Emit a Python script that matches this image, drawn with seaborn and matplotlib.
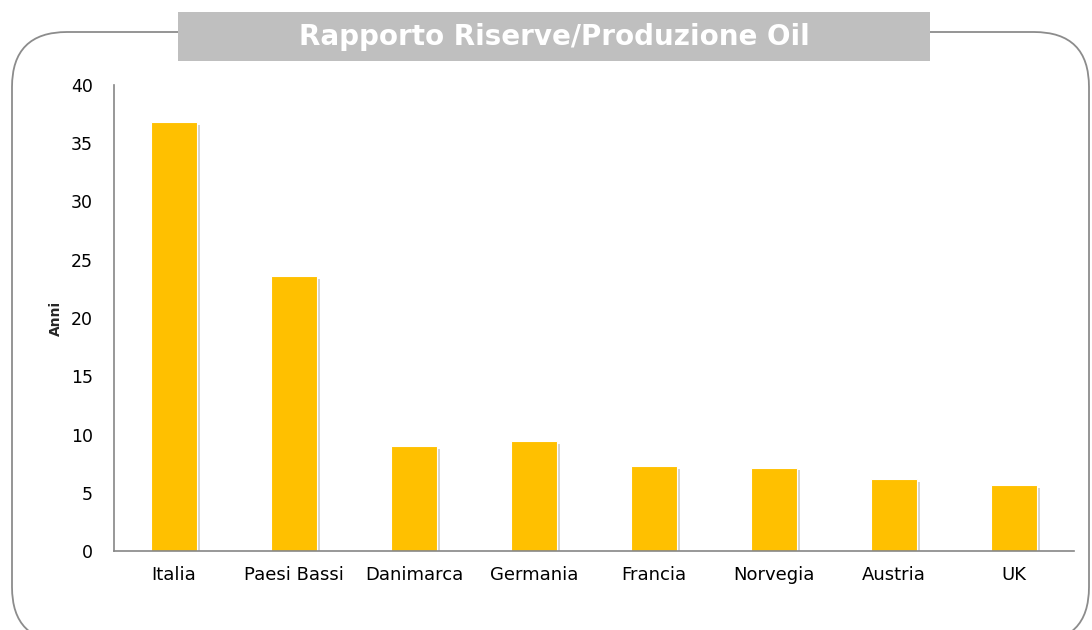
import matplotlib
matplotlib.use("Agg")
import matplotlib.pyplot as plt
import matplotlib.patheffects as pe
from matplotlib.patches import FancyBboxPatch, Rectangle
import seaborn as sns
import pandas as pd

categories = ["Italia", "Paesi Bassi", "Danimarca", "Germania", "Francia", "Norvegia", "Austria", "UK"]
values = [36.8, 23.6, 9.0, 9.4, 7.3, 7.15, 6.2, 5.65]
yticks = [0, 5, 10, 15, 20, 25, 30, 35, 40]
title = "Rapporto Riserve/Produzione Oil"
ylabel = "Anni"

sns.set_style("white")
plt.rcParams["font.family"] = ["DejaVu Sans"]

df = pd.DataFrame({"Paese": categories, "Anni": values})

fig = plt.figure(figsize=(10.92, 6.30), dpi=100)
W, H = 1092, 630

# outer rounded frame (pixel coords -> inches)
frame = FancyBboxPatch((12 / 100, -0.12), (1089 - 12) / 100, (630 - 32) / 100 + 0.12,
                       boxstyle="round,pad=0,rounding_size=0.55",
                       transform=fig.dpi_scale_trans, facecolor="none",
                       edgecolor="#8c8c8c", linewidth=1.3, zorder=0)
fig.patches.append(frame)

# title box
tb = Rectangle((178 / W, (H - 61) / H), (930 - 178) / W, (61 - 12) / H,
               transform=fig.transFigure, facecolor="#bfbfbf", edgecolor="none", zorder=2)
fig.patches.append(tb)
fig.text((178 + 930) / 2 / W, (H - 37) / H, title, color="white", fontsize=20,
         fontweight="bold", ha="center", va="center", zorder=3)

ax = fig.add_axes([114 / W, (H - 551) / H, (1074 - 114) / W, (551 - 85) / H])
sns.barplot(data=df, x="Paese", y="Anni", color="#FFC000", width=0.38,
            saturation=1, ax=ax, edgecolor="white", linewidth=0.8)
for p in ax.patches:
    p.set_path_effects([pe.SimplePatchShadow(offset=(2, -2), shadow_rgbFace="#7f7f7f", alpha=0.35),
                        pe.Normal()])

ax.set_ylim(0, 40)
ax.set_xlim(-0.5, len(categories) - 0.5)
ax.set_yticks(yticks)
ax.set_xlabel("")
ax.set_ylabel(ylabel, fontsize=10, fontweight="bold", labelpad=6)
for s in ["top", "right"]:
    ax.spines[s].set_visible(False)
for s in ["left", "bottom"]:
    ax.spines[s].set_color("#868686")
    ax.spines[s].set_linewidth(1.2)
ax.tick_params(axis="y", length=0, pad=15, labelsize=12.5, colors="black")
ax.tick_params(axis="x", length=0, pad=11, labelsize=13, colors="black")
ax.set_facecolor("none")

fig.savefig("out.png", dpi=100)
